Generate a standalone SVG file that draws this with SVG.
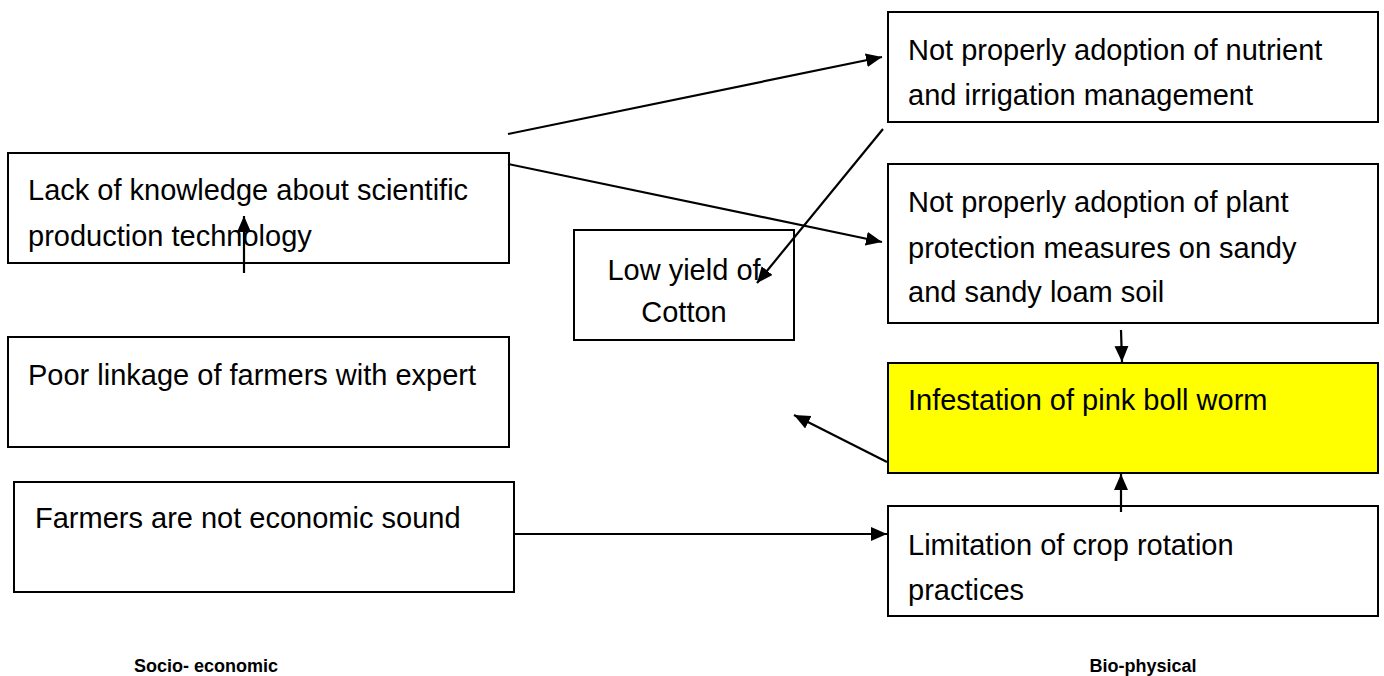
<svg xmlns="http://www.w3.org/2000/svg" width="1384" height="676" viewBox="0 0 1384 676">
  <style>
    .box { fill: #ffffff; stroke: #000000; stroke-width: 2; }
    .hl { fill: #ffff00; stroke: #000000; stroke-width: 2; }
    .t { font-family: "Liberation Sans", Arial, sans-serif; font-size: 29px; fill: #000000; }
    .c { text-anchor: middle; }
    .lbl { font-family: "Liberation Sans", Arial, sans-serif; font-size: 18px; font-weight: bold; fill: #000000; text-anchor: middle; }
    .edge { fill: none; stroke: #000000; stroke-width: 2.2; marker-end: url(#arrow); }
  </style>
  <defs>
    <marker id="arrow" markerUnits="userSpaceOnUse" markerWidth="18" markerHeight="16" refX="16" refY="7" orient="auto">
      <path d="M0,0 L16,7 L0,14 z" fill="#000000"/>
    </marker>
  </defs>

  <rect width="1384" height="676" fill="#ffffff"/>

  <!-- socio-economic causes -->
  <g id="lack-knowledge">
    <rect class="box" x="8" y="153" width="501" height="110"/>
    <text class="t" x="28" y="200">Lack of knowledge about scientific</text>
    <text class="t" x="28" y="246">production technology</text>
  </g>
  <g id="poor-linkage">
    <rect class="box" x="8" y="337" width="501" height="110"/>
    <text class="t" x="28" y="385">Poor linkage of farmers with expert</text>
  </g>
  <g id="not-economic-sound">
    <rect class="box" x="14" y="482" width="500" height="110"/>
    <text class="t" x="35" y="528">Farmers are not economic sound</text>
  </g>

  <!-- central outcome -->
  <g id="low-yield">
    <rect class="box" x="574" y="230" width="220" height="110"/>
    <text class="t c" x="684" y="280">Low yield of</text>
    <text class="t c" x="684" y="322">Cotton</text>
  </g>

  <!-- bio-physical causes -->
  <g id="nutrient-irrigation">
    <rect class="box" x="888" y="12" width="490" height="110"/>
    <text class="t" x="908" y="60">Not properly adoption of nutrient</text>
    <text class="t" x="908" y="105">and irrigation management</text>
  </g>
  <g id="plant-protection">
    <rect class="box" x="888" y="164" width="490" height="159"/>
    <text class="t" x="908" y="212">Not properly adoption of plant</text>
    <text class="t" x="908" y="258">protection measures on sandy</text>
    <text class="t" x="908" y="302">and sandy loam soil</text>
  </g>
  <g id="pink-boll-worm">
    <rect class="hl" x="888" y="363" width="490" height="110"/>
    <text class="t" x="908" y="410">Infestation of pink boll worm</text>
  </g>
  <g id="crop-rotation">
    <rect class="box" x="888" y="506" width="490" height="110"/>
    <text class="t" x="908" y="555">Limitation of crop rotation</text>
    <text class="t" x="908" y="600">practices</text>
  </g>

  <!-- connectors -->
  <g id="connectors">
    <line class="edge" x1="508" y1="134" x2="882" y2="57"/>
    <line class="edge" x1="508" y1="164" x2="882" y2="242"/>
    <line class="edge" x1="883" y1="129" x2="757" y2="283"/>
    <line class="edge" x1="244" y1="273" x2="244" y2="216"/>
    <line class="edge" x1="1121" y1="330" x2="1122" y2="362"/>
    <line class="edge" x1="1121" y1="512" x2="1121" y2="474"/>
    <line class="edge" x1="887" y1="462" x2="794" y2="415"/>
    <line class="edge" x1="514" y1="534" x2="887" y2="534"/>
  </g>

  <!-- column captions -->
  <g id="captions">
    <text class="lbl" x="206" y="672">Socio- economic</text>
    <text class="lbl" x="1143" y="672">Bio-physical</text>
  </g>
</svg>
